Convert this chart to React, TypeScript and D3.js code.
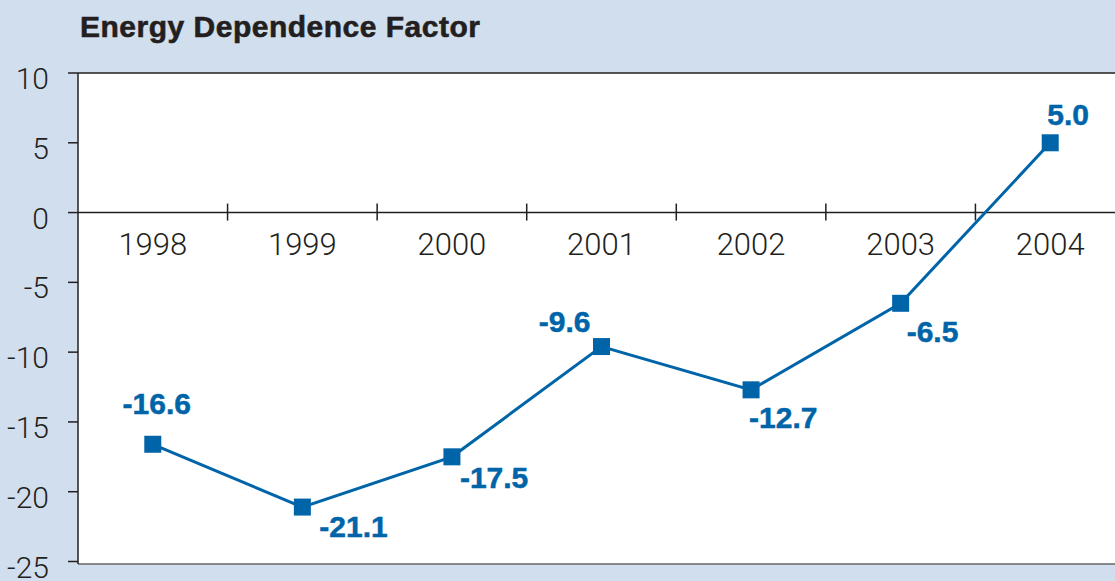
import React from "react";
import * as d3 from "d3";

const years = ["1998", "1999", "2000", "2001", "2002", "2003", "2004"];
const values = [-16.6, -21.1, -17.5, -9.6, -12.7, -6.5, 5.0];
const yTicks = [10, 5, 0, -5, -10, -15, -20, -25];

// where each value label sits relative to its marker
const labelPos = [
  { dx: 4, dy: -30, anchor: "middle" },
  { dx: 17, dy: 30, anchor: "start" },
  { dx: 8, dy: 31, anchor: "start" },
  { dx: -11, dy: -15, anchor: "end" },
  { dx: -2, dy: 38, anchor: "start" },
  { dx: 6, dy: 39, anchor: "start" },
  { dx: -3, dy: -18, anchor: "start" },
];

const W = 1115;
const H = 581;
const left = 78;
const top = 73;
const bottom = 564;

const bg = "#d1deee";
const blue = "#0064a8";
const ink = "#231f20";
const lightFont = "Roboto, 'Liberation Sans', sans-serif";
const boldFont = "'Liberation Sans', Arial, sans-serif";

export default function App() {
  const x = d3.scaleBand().domain(years).range([left, 1125]);
  const y = d3.scaleLinear().domain([-25, 10]).range([561.5, top]);

  const line = d3
    .line<number>()
    .x((d, i) => x(years[i])! + x.bandwidth() / 2)
    .y((d) => y(d));

  return (
    <svg
      width={W}
      height={H}
      style={{ position: "absolute", left: 0, top: 0, display: "block" }}
    >
      <rect x={0} y={0} width={W} height={H} fill={bg} />
      <rect x={left} y={top} width={W - left} height={bottom - top} fill="#fff" />

      <text
        x={80}
        y={37}
        fontFamily={boldFont}
        fontWeight="bold"
        fontSize={30}
        fill={ink}
        stroke={ink}
        strokeWidth={0.6}
        letterSpacing={0.5}
      >
        Energy Dependence Factor
      </text>

      {/* frame */}
      <line x1={left} x2={W} y1={top} y2={top} stroke={ink} strokeWidth={1.5} />
      <line x1={left} x2={W} y1={bottom} y2={bottom} stroke="#666" strokeWidth={1.5} />
      <line x1={left} x2={left} y1={top} y2={bottom} stroke={ink} strokeWidth={1.5} />

      {/* y axis */}
      {yTicks.map((t) => (
        <g key={"y" + t}>
          <line x1={68} x2={left} y1={y(t)} y2={y(t)} stroke={ink} strokeWidth={1.5} />
          <text
            x={49}
            y={y(t) + 16}
            textAnchor="end"
            fontFamily={lightFont}
            fontWeight={300}
            fontSize={30}
            fill={ink}
          >
            {t}
          </text>
        </g>
      ))}

      {/* x axis on zero */}
      <line x1={left} x2={W} y1={y(0)} y2={y(0)} stroke={ink} strokeWidth={1.5} />
      {years.slice(1).map((yr) => (
        <line key={"t" + yr} x1={x(yr)} x2={x(yr)} y1={y(0) - 9} y2={y(0) + 8} stroke={ink} strokeWidth={1.5} />
      ))}
      {years.map((yr) => (
        <text
          key={"l" + yr}
          x={x(yr)! + x.bandwidth() / 2}
          y={255}
          textAnchor="middle"
          fontFamily={lightFont}
          fontWeight={300}
          fontSize={31}
          fill={ink}
        >
          {yr}
        </text>
      ))}

      <path d={line(values) || ""} fill="none" stroke={blue} strokeWidth={3} />
      {values.map((v, i) => {
        const cx = x(years[i])! + x.bandwidth() / 2;
        const cy = y(v);
        const p = labelPos[i];
        return (
          <g key={"p" + i}>
            <rect x={cx - 8.5} y={cy - 8.5} width={17} height={17} fill={blue} />
            <text
              x={cx + p.dx}
              y={cy + p.dy}
              textAnchor={p.anchor}
              fontFamily={boldFont}
              fontWeight="bold"
              fontSize={30}
              fill={blue}
              stroke={blue}
              strokeWidth={0.5}
            >
              {v.toFixed(1)}
            </text>
          </g>
        );
      })}
    </svg>
  );
}
